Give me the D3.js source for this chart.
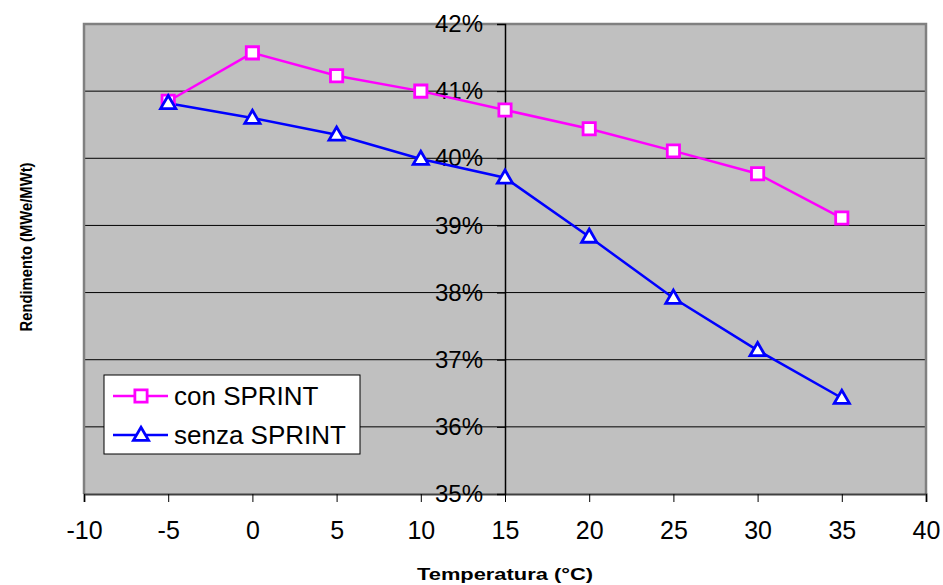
<!DOCTYPE html>
<html>
<head>
<meta charset="utf-8">
<script src="https://cdn.jsdelivr.net/npm/d3@7"></script>
<style>
  body { margin: 0; background: #fff; }
  text { font-family: Arial, "Liberation Sans", sans-serif; }
</style>
</head>
<body>
<svg width="943" height="585"></svg>
<script>
const width = 943;
const height = 585;

// temperature (°C)
const temps = [-5, 0, 5, 10, 15, 20, 25, 30, 35];
// efficiency (%)
const conSprint = [40.85, 41.57, 41.23, 41.0, 40.72, 40.44, 40.11, 39.77, 39.11];
const senzaSprint = [40.82, 40.6, 40.35, 39.99, 39.71, 38.83, 37.92, 37.14, 36.43];
const xTicks = [-10, -5, 0, 5, 10, 15, 20, 25, 30, 35, 40];
const yTicks = [35, 36, 37, 38, 39, 40, 41, 42];

const margin = { left: 84, right: 17, top: 24, bottom: 91 };

const svg = d3.select("svg");

const x = d3.scaleLinear().domain([-10, 40]).range([margin.left, width - margin.right]);
const y = d3.scaleLinear().domain([35, 42]).range([height - margin.bottom, margin.top]);

// plot background
svg.append("rect")
    .attr("x", x(-10)).attr("y", y(42))
    .attr("width", x(40) - x(-10)).attr("height", y(35) - y(42))
    .attr("fill", "#c0c0c0");

// horizontal grid lines
svg.append("g")
    .selectAll("line")
    .data(yTicks.filter(d => d > 35 && d < 42))
    .enter().append("line")
    .attr("x1", x(-10)).attr("x2", x(40))
    .attr("y1", d => y(d)).attr("y2", d => y(d))
    .attr("stroke", "#000").attr("stroke-width", 1);

// plot border (gray, left/top/right)
svg.append("path")
    .attr("d", `M${x(-10)},${y(35)}V${y(42)}H${x(40)}V${y(35)}`)
    .attr("fill", "none").attr("stroke", "#808080").attr("stroke-width", 2.5);

// x axis at y = 35%
const xAxis = svg.append("g")
    .attr("transform", `translate(0,${y(35)})`)
    .call(d3.axisBottom(x).tickValues(xTicks).tickSize(8).tickPadding(19).tickFormat(d => String(d)));
xAxis.select(".domain").attr("stroke", "#404040").attr("stroke-width", 2);
xAxis.selectAll(".tick line").attr("stroke", "#000");
xAxis.selectAll("text")
    .attr("font-size", 25).attr("fill", "#000");

// y axis crossing at x = 15
const yAxis = svg.append("g")
    .attr("transform", `translate(${x(15)},0)`)
    .call(d3.axisLeft(y).tickValues(yTicks).tickSize(8).tickPadding(14).tickFormat(d => d + "%"));
yAxis.select(".domain").attr("stroke", "#000").attr("stroke-width", 1.5);
yAxis.selectAll(".tick line").attr("stroke", "#000");
yAxis.selectAll("text")
    .attr("font-size", 24).attr("fill", "#000");

const line = d3.line()
    .x((d, i) => x(temps[i]))
    .y(d => y(d));

const series = [
    { name: "con SPRINT", values: conSprint, color: "#ff00ff", symbol: d3.symbolSquare, size: 150 },
    { name: "senza SPRINT", values: senzaSprint, color: "#0000ff", symbol: d3.symbolTriangle, size: 100 }
];

series.forEach(s => {
    svg.append("path")
        .datum(s.values)
        .attr("d", line)
        .attr("fill", "none")
        .attr("stroke", s.color)
        .attr("stroke-width", 2.5);
});

series.forEach(s => {
    svg.append("g")
        .selectAll("path")
        .data(s.values)
        .enter().append("path")
        .attr("d", d3.symbol().type(s.symbol).size(s.size))
        .attr("transform", (d, i) => `translate(${x(temps[i])},${y(d) + (s.symbol === d3.symbolTriangle ? 1 : 0)})`)
        .attr("fill", "#fff")
        .attr("stroke", s.color)
        .attr("stroke-width", 2.8);
});

// legend
const legend = svg.append("g").attr("transform", "translate(104,375)");
legend.append("rect")
    .attr("width", 256).attr("height", 79)
    .attr("fill", "#fff").attr("stroke", "#000").attr("stroke-width", 1);

series.forEach((s, i) => {
    const ly = 21 + i * 39;
    legend.append("line")
        .attr("x1", 9).attr("x2", 64)
        .attr("y1", ly).attr("y2", ly)
        .attr("stroke", s.color).attr("stroke-width", 2.5);
    legend.append("path")
        .attr("d", d3.symbol().type(s.symbol).size(s.size))
        .attr("transform", `translate(37,${ly + (s.symbol === d3.symbolTriangle ? 1 : 0)})`)
        .attr("fill", "#fff").attr("stroke", s.color).attr("stroke-width", 2.8);
    legend.append("text")
        .attr("x", 70).attr("y", ly)
        .attr("dy", "0.36em")
        .attr("font-size", 26)
        .text(s.name);
});

// axis titles
svg.append("text")
    .attr("x", x(15)).attr("y", 580)
    .attr("text-anchor", "middle")
    .attr("font-size", 17).attr("font-weight", "bold")
    .attr("textLength", 176).attr("lengthAdjust", "spacingAndGlyphs")
    .text("Temperatura (°C)");

svg.append("text")
    .attr("transform", "translate(32,247) rotate(-90)")
    .attr("text-anchor", "middle")
    .attr("font-size", 17).attr("font-weight", "bold")
    .attr("textLength", 169).attr("lengthAdjust", "spacingAndGlyphs")
    .text("Rendimento (MWe/MWt)");
</script>
</body>
</html>
